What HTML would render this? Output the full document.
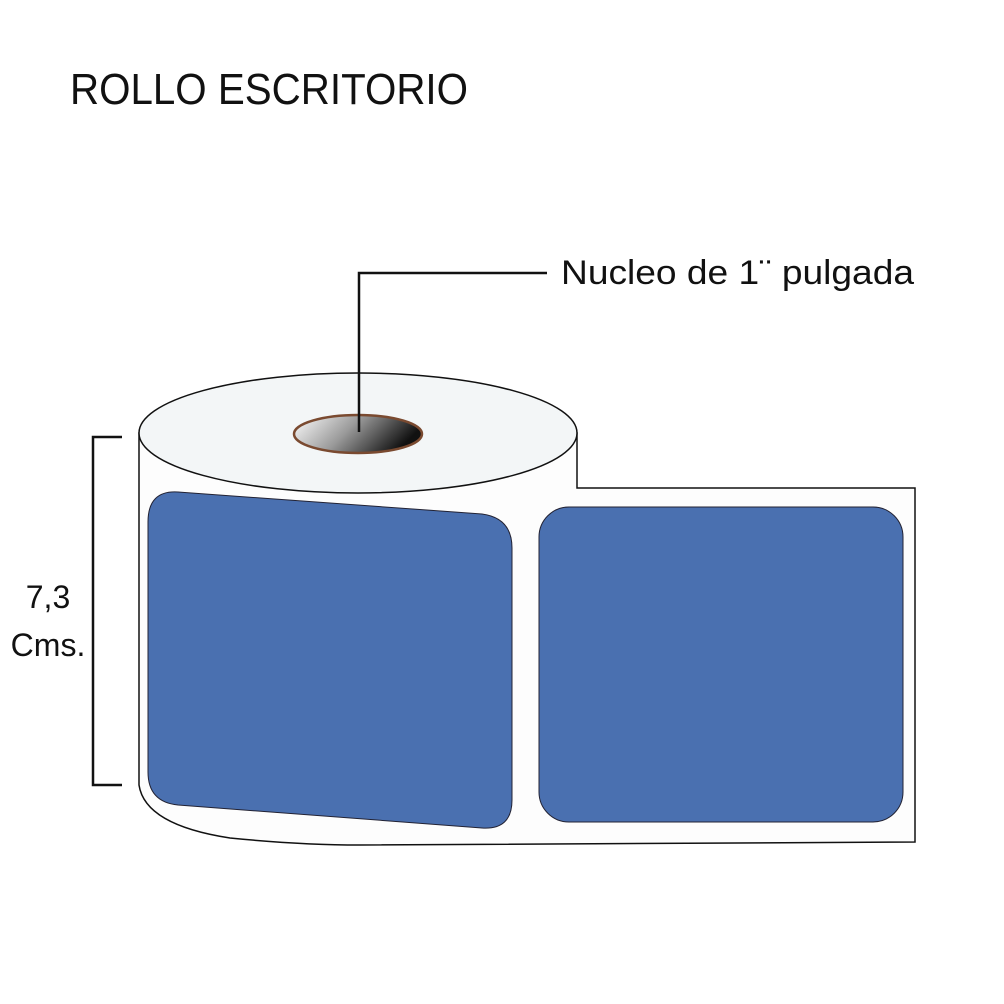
<!DOCTYPE html>
<html><head><style>body{margin:0;background:#fff}svg{display:block}</style></head><body>
<svg width="1004" height="1004" viewBox="0 0 1004 1004" xmlns="http://www.w3.org/2000/svg">
<defs>
<linearGradient id="g" x1="0" y1="0" x2="1" y2="0.3">
<stop offset="0" stop-color="#fff"/><stop offset="0.5" stop-color="#999"/><stop offset="1" stop-color="#111"/>
</linearGradient>
</defs>
<text x="70" y="104" font-family="Liberation Sans, sans-serif" font-size="44" fill="#111" textLength="398" lengthAdjust="spacingAndGlyphs">ROLLO ESCRITORIO</text>
<path d="M139 433 L139 785 Q145 825 230 838 Q300 845 360 845 L915 842 L915 488 L577 488 L577 433 Z" fill="#fdfdfd" stroke="#111" stroke-width="1.5"/>
<ellipse cx="358" cy="433" rx="219" ry="60" fill="#f3f6f7" stroke="#111" stroke-width="1.5"/>
<ellipse cx="358" cy="434" rx="64" ry="19" fill="url(#g)" stroke="#7a4a30" stroke-width="2.5"/>
<path d="M178 492 L482 514 Q512 518 512 548 L512 800 Q512 830 482 828 L178 805 Q148 802 148 772 L148 522 Q148 490 178 492 Z" fill="#4a70b0" stroke="#223" stroke-width="1"/>
<rect x="539" y="507" width="364" height="315" rx="30" fill="#4a70b0" stroke="#223" stroke-width="1"/>
<polyline points="359,432 359,273 547,273" fill="none" stroke="#111" stroke-width="2.5"/>
<text x="561" y="284" font-family="Liberation Sans, sans-serif" font-size="34" fill="#111" textLength="353" lengthAdjust="spacingAndGlyphs">Nucleo de 1¨ pulgada</text>
<polyline points="122,437 93,437 93,785 122,785" fill="none" stroke="#111" stroke-width="2.5"/>
<text x="48" y="608" text-anchor="middle" font-family="Liberation Sans, sans-serif" font-size="32" fill="#111">7,3</text>
<text x="48" y="656" text-anchor="middle" font-family="Liberation Sans, sans-serif" font-size="32" fill="#111">Cms.</text>
</svg>
</body></html>
